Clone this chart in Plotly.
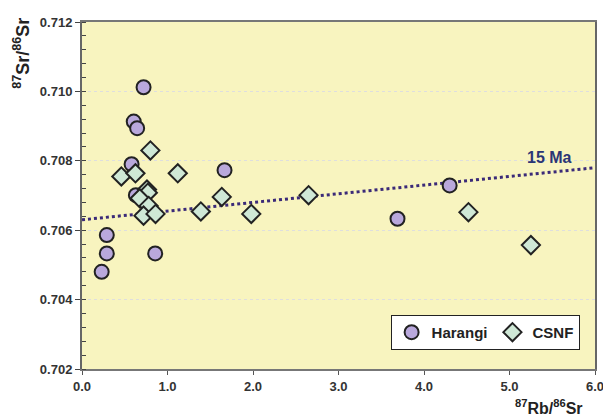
import plotly.graph_objects as go

# Harangi data
harangi_x = [0.72, 0.605, 0.645, 0.58, 0.63, 0.29, 0.29, 0.23, 0.856, 1.667, 4.30, 3.69]
harangi_y = [0.71012, 0.70913, 0.70894, 0.7079, 0.70701, 0.70586, 0.70533, 0.70480, 0.70533, 0.70773, 0.70729, 0.70633]

# CSNF data
csnf_x = [0.80, 0.46, 0.625, 1.12, 0.76, 0.77, 0.675, 0.78, 0.72, 0.86, 1.39, 1.635, 1.98, 2.65, 4.52, 5.25]
csnf_y = [0.7083, 0.70755, 0.70764, 0.70764, 0.70717, 0.70708, 0.70692, 0.70670, 0.70642, 0.70647, 0.70654, 0.70696, 0.70647, 0.70701, 0.70652, 0.70557]

# 15 Ma reference line
line_x = [0.0, 6.0]
line_y = [0.7063, 0.7078]

x_ticks = [0, 1, 2, 3, 4, 5, 6]
x_tick_labels = ["0.0", "1.0", "2.0", "3.0", "4.0", "5.0", "6.0"]
y_ticks = [0.702, 0.704, 0.706, 0.708, 0.710, 0.712]
y_tick_labels = ["0.702", "0.704", "0.706", "0.708", "0.710", "0.712"]

font_family = "Liberation Sans, Arial, sans-serif"

fig = go.Figure()
fig.add_trace(go.Scatter(
    x=line_x, y=line_y, mode="lines",
    line=dict(color="#3b2a78", width=3, dash="dot"),
    showlegend=False, hoverinfo="skip"))
fig.add_trace(go.Scatter(
    x=harangi_x, y=harangi_y, mode="markers", name="Harangi",
    marker=dict(symbol="circle", size=14, color="#b9a8dc",
                line=dict(color="#222222", width=2))))
fig.add_trace(go.Scatter(
    x=csnf_x, y=csnf_y, mode="markers", name="CSNF",
    marker=dict(symbol="diamond", size=14, color="#cfe8d6",
                line=dict(color="#222222", width=2))))

fig.add_annotation(x=5.47, y=0.7081, text="15 Ma", showarrow=False,
                   font=dict(family=font_family, size=16, color="#2a3575", weight="bold"))

fig.add_annotation(xref="paper", yref="paper", x=-0.118, y=0.91,
                   xanchor="center", yanchor="middle",
                   text="<sup>87</sup>Sr/<sup>86</sup>Sr", textangle=-90,
                   showarrow=False,
                   font=dict(family=font_family, size=18, color="#222222", weight="bold"))
fig.add_annotation(xref="paper", yref="paper", x=0.91, y=-0.11,
                   xanchor="center", yanchor="middle",
                   text="<sup>87</sup>Rb/<sup>86</sup>Sr",
                   showarrow=False,
                   font=dict(family=font_family, size=16, color="#222222", weight="bold"))

fig.update_layout(
    width=603, height=412,
    margin=dict(l=74, r=10, t=7, b=51),
    paper_bgcolor="white",
    plot_bgcolor="#f8f4bf",
    font=dict(family=font_family, size=13, color="#333333"),
    legend=dict(orientation="h", x=0.97, y=0.055, xanchor="right", yanchor="bottom",
                bgcolor="white", bordercolor="#222222", borderwidth=1,
                font=dict(family=font_family, size=15, color="#222222", weight="bold"),
                itemwidth=30, tracegroupgap=0),
)
fig.update_xaxes(range=[0, 6], tickvals=x_ticks, ticktext=x_tick_labels,
                 showgrid=False, zeroline=False,
                 showline=True, linecolor="#777777", linewidth=2, mirror=True,
                 ticks="outside", ticklen=4, tickcolor="#555555",
                 ticklabeloverflow="allow",
                 tickfont=dict(size=13, color="#333333", weight="bold"))
fig.update_yaxes(range=[0.702, 0.712], tickvals=y_ticks, ticktext=y_tick_labels,
                 showgrid=True, gridcolor="#dedede", griddash="dot", gridwidth=1,
                 zeroline=False,
                 showline=True, linecolor="#666666", linewidth=2, mirror=True,
                 ticks="outside", ticklen=5, tickcolor="#444444",
                 minor=dict(dtick=0.0004, tick0=0.702, ticks="inside", ticklen=4, tickcolor="#444444", showgrid=False),
                 tickfont=dict(size=13, color="#333333", weight="bold"))

fig.write_html("out.html")
